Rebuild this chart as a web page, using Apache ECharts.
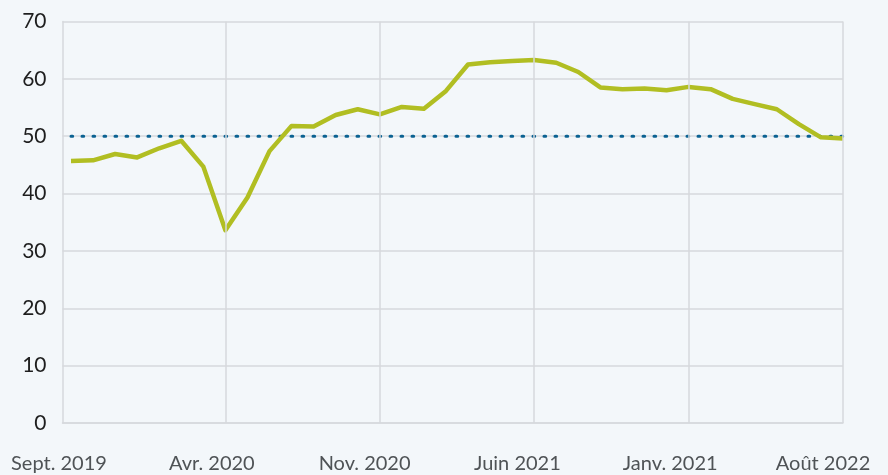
<!DOCTYPE html>
<html>
<head>
<meta charset="utf-8">
<script src="https://cdn.jsdelivr.net/npm/echarts@6/dist/echarts.min.js"></script>
<style>
  html, body { margin: 0; padding: 0; background: #F3F7FA; }
  #chart { width: 888px; height: 475px; }
</style>
</head>
<body>
<div id="chart"></div>
<script>
// monthly index, Sept. 2019 -> Août 2022
var values = [
    45.7, 45.8, 46.9, 46.3, 47.9, 49.2, 44.7, 33.6, 39.3, 47.4,
    51.8, 51.7, 53.7, 54.7, 53.8, 55.1, 54.8, 57.9, 62.5, 62.9,
    63.1, 63.3, 62.8, 61.2, 58.5, 58.2, 58.3, 58.0, 58.6, 58.2,
    56.5, 55.6, 54.7, 52.1, 49.8, 49.6
];
var threshold = 50;
var xLabels = ['Sept. 2019', 'Avr. 2020', 'Nov. 2020', 'Juin 2021', 'Janv. 2021', 'Août 2022'];
var gridMonths = [7, 14, 21, 28, 35];
var yTicks = [0, 10, 20, 30, 40, 50, 60, 70];

var gridColor = '#D6D9DD';

var chart = echarts.init(document.getElementById('chart'));

var lineData = values.map(function (v, i) { return [i, v]; });
var refData = values.map(function (v, i) { return [i, threshold]; });

var option = {
    backgroundColor: '#F3F7FA',
    animation: false,
    grid: [
        { left: 62.5, right: 45, top: 21.5, bottom: 52 },
        { left: 59, right: 65, top: 21.5, bottom: 52 }
    ],
    xAxis: [
        {
            gridIndex: 0,
            type: 'value',
            min: -0.385,
            max: 35,
            axisLine: { show: true, onZero: false, lineStyle: { color: gridColor, width: 1.5 } },
            axisTick: { show: false },
            axisLabel: { show: false },
            splitLine: { show: false }
        },
        {
            gridIndex: 1,
            type: 'category',
            boundaryGap: false,
            data: xLabels,
            axisLine: { show: false },
            axisTick: { show: false },
            splitLine: { show: false },
            axisLabel: {
                interval: 0,
                margin: 31,
                color: '#4F5356',
                fontFamily: 'Lato',
                fontSize: 20
            }
        }
    ],
    yAxis: [
        {
            gridIndex: 0,
            type: 'value',
            min: yTicks[0],
            max: yTicks[yTicks.length - 1],
            interval: 10,
            axisLine: { show: true, onZero: false, lineStyle: { color: gridColor, width: 1.5 } },
            axisTick: { show: false },
            splitLine: { show: true, lineStyle: { color: gridColor, width: 1.5 } },
            axisLabel: {
                margin: 16,
                color: '#1E1E1E',
                fontFamily: 'Lato',
                fontSize: 21
            }
        },
        { gridIndex: 1, type: 'value', show: false }
    ],
    series: [
        {
            type: 'line',
            xAxisIndex: 0,
            yAxisIndex: 0,
            z: 1,
            data: refData,
            symbol: 'none',
            lineStyle: { color: '#0B6292', width: 3, type: [1.7, 9.3], cap: 'round' },
            markLine: {
                silent: true,
                symbol: 'none',
                label: { show: false },
                lineStyle: { color: gridColor, width: 1.5, type: 'solid' },
                data: gridMonths.map(function (m) { return { xAxis: m }; })
            }
        },
        {
            type: 'line',
            xAxisIndex: 0,
            yAxisIndex: 0,
            z: 3,
            data: lineData,
            symbol: 'none',
            lineStyle: { color: '#B1BE22', width: 4.5, join: 'round' }
        }
    ]
};

chart.setOption(option);
</script>
</body>
</html>
